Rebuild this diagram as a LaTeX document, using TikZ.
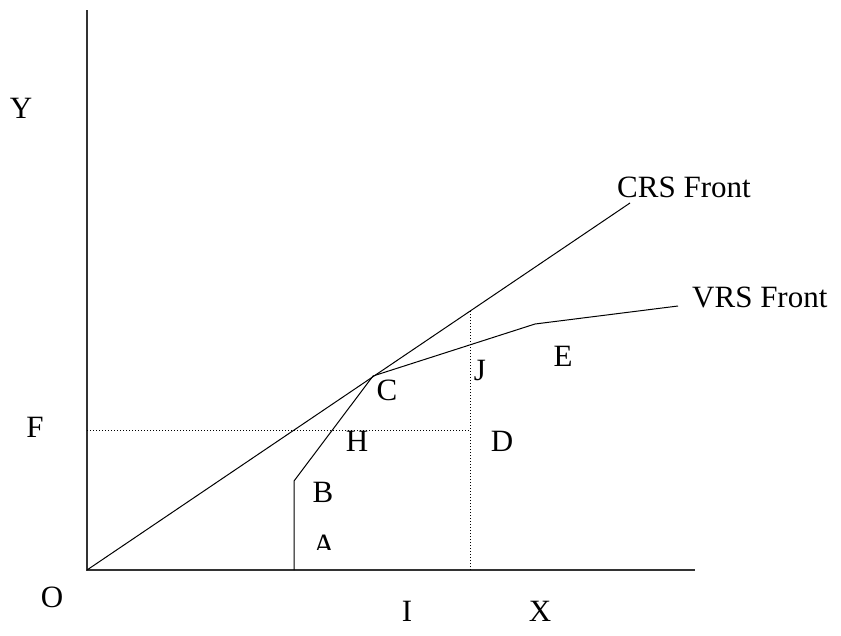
\documentclass[tikz,border=0pt]{standalone}
\usepackage{fontspec}
\setmainfont{Liberation Serif}
\begin{document}
\begin{tikzpicture}[x=1pt,y=-1pt,
  lbl/.style={inner sep=0pt,font=\fontsize{31}{36}\selectfont},
  axis/.style={draw=black!80,line width=1.3pt},
  front/.style={draw=black,line width=1pt},
  guide/.style={draw=black,line width=0.9pt,dash pattern=on 1pt off 2pt}]
\useasboundingbox (0,0) rectangle (841,635);
% points
\coordinate (O) at (87,570);
\coordinate (Ytop) at (87,10);
\coordinate (Xend) at (695,570);
\coordinate (CRSend) at (630,203);
\coordinate (Pbase) at (294,570);
\coordinate (Pb) at (294,481);
\coordinate (Pc) at (373,376);
\coordinate (Pe) at (535,324);
\coordinate (Pend) at (678,306);
\coordinate (Fl) at (87,430);
\coordinate (Dp) at (470,430);
\coordinate (Ib) at (470,570);
\coordinate (Jt) at (470,311);
% axes
\draw[axis] (Ytop) -- (O) -- (Xend);
% CRS front
\draw[front] (O) -- (CRSend);
% VRS front
\draw[front] (Pbase) -- (Pb) -- (Pc) -- (Pe) -- (Pend);
% dotted guides
\draw[guide] (Fl) -- (Dp);
\draw[guide] (Ib) -- (Jt);
% labels
\node[lbl] (lY) at (21,108) {Y};
\node[lbl] (lF) at (35,427) {F};
\node[lbl] (lO) at (52,597) {O};
\node[lbl] (lI) at (407,611) {I};
\node[lbl] (lX) at (540,611) {X};
\node[lbl,anchor=west] (lCRS) at (617,187) {CRS Front};
\node[lbl,anchor=west] (lVRS) at (692,297) {VRS Front};
\node[lbl] (lC) at (387,390) {C};
\node[lbl] (lH) at (357,441) {H};
\node[lbl] (lD) at (502,441) {D};
\node[lbl] (lJ) at (480,370) {J};
\node[lbl] (lE) at (563,356) {E};
\node[lbl] (lB) at (323,492) {B};
\begin{scope}
\clip (300,520) rectangle (350,549);
\node[lbl] (lA) at (324,545) {A};
\end{scope}
\end{tikzpicture}
\end{document}
